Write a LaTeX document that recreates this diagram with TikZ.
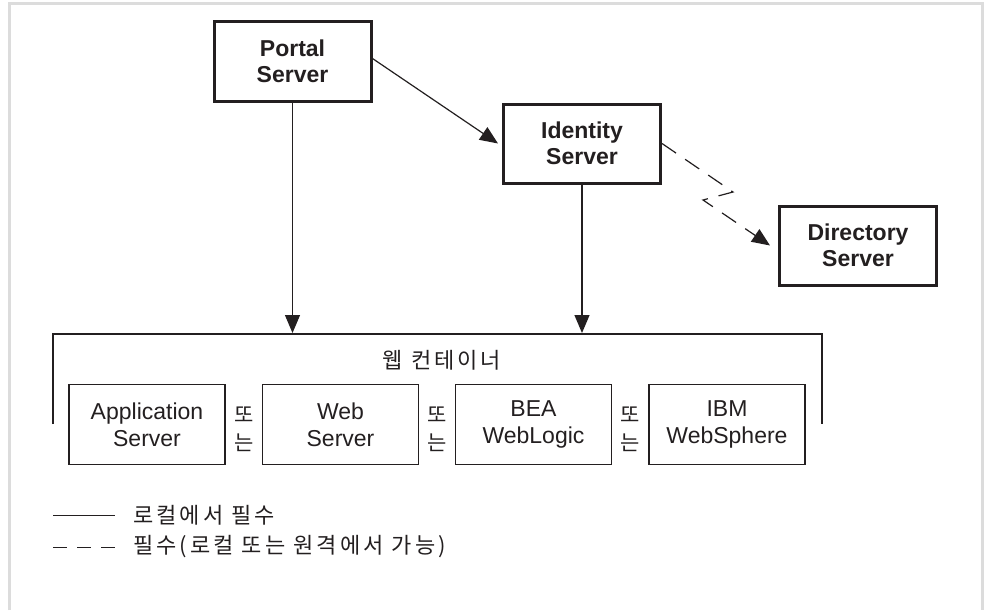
\documentclass[tikz,border=0pt]{standalone}
\usepackage{fontspec}
\setmainfont{Liberation Sans}
\newfontfamily\kr[LetterSpace=14]{Noto Sans CJK KR}
\newfontfamily\krtight{Noto Sans CJK KR}
\usetikzlibrary{arrows.meta}
\definecolor{ink}{HTML}{231F20}
\definecolor{framegray}{HTML}{DCDCDC}
\begin{document}
\begin{tikzpicture}[x=1pt,y=-1pt,
  topbox/.style={draw=ink, line width=3pt, minimum width=157pt, minimum height=79pt, align=center,
    font=\fontsize{23}{26}\selectfont\bfseries, text=ink, inner sep=0pt},
  srvbox/.style={draw=ink, line width=1.4pt, minimum width=156pt, minimum height=80pt, align=center,
    font=\fontsize{23}{27}\selectfont, text=ink, inner sep=0pt},
  orlbl/.style={font=\krtight\fontsize{21}{28}\selectfont, text=ink, align=center, inner sep=0pt},
  krtext/.style={font=\kr\fontsize{22}{26}\selectfont, text=ink, inner sep=0pt},
  conn/.style={draw=ink, line width=1.2pt, -{Triangle[length=18pt,width=15pt]}},
  dashconn/.style={draw=ink, line width=1.2pt, dash pattern=on 17pt off 11pt, -{Triangle[length=18pt,width=15pt]}},
  thin/.style={draw=ink, line width=1.2pt}]
\useasboundingbox (0,0) rectangle (987,610);
\fill[white] (0,0) rectangle (987,610);
\draw[framegray, line width=3pt] (9.5,610) -- (9.5,3.5) -- (982.5,3.5) -- (982.5,610);

% top servers
\node[topbox] (portal) at (292.5,61.5) {Portal\\Server};
\node[topbox] (identity) at (582,143.5) {Identity\\Server};
\node[topbox] (directory) at (858,245.5) {Directory\\Server};

% web container bracket
\coordinate (bl) at (53,424);
\coordinate (tl) at (53,334);
\coordinate (tr) at (822,334);
\coordinate (br) at (822,424);
\coordinate (inP) at (292.5,333);
\coordinate (inI) at (582,333);
\draw[thin] (bl) -- (tl) -- (tr) -- (br);
\node[krtext] (wc) at (442,360) {웹 컨테이너};

% bottom servers
\node[srvbox] (app) at (147,424.5) {Application\\Server};
\node[srvbox] (web) at (340.5,424.5) {Web\\Server};
\node[srvbox] (bea) at (533.5,424.5) {BEA\\WebLogic};
\node[srvbox] (ibm) at (727,424.5) {IBM\\WebSphere};
\node[orlbl] (or1) at (244,429) {또\\는};
\node[orlbl] (or2) at (437,429) {또\\는};
\node[orlbl] (or3) at (630,429) {또\\는};

% connectors
\draw[conn] (portal.south) -- (inP);
\draw[conn] (identity.south) -- (inI);
\draw[conn] ([yshift=3pt]portal.east) -- ([xshift=-4pt]identity.west);
\coordinate (z1) at (733,192);
\coordinate (z2) at (703,200);
\draw[dashconn] (identity.east) -- (z1) -- (z2) -- ([xshift=-8pt]directory.west);

% legend
\coordinate (l1a) at (53,515);
\coordinate (l1b) at (115,515);
\coordinate (l2a) at (53,547);
\coordinate (l2b) at (115,547);
\draw[thin, line width=1pt] (l1a) -- (l1b);
\draw[thin, line width=1pt, dash pattern=on 14pt off 10pt] (l2a) -- (l2b);
\node[krtext, anchor=west] (lg1) at (133,515) {로컬에서 필수};
\node[krtext, anchor=west] (lg2) at (133,547) {필수(로컬 또는 원격에서 가능)};
\end{tikzpicture}
\end{document}
